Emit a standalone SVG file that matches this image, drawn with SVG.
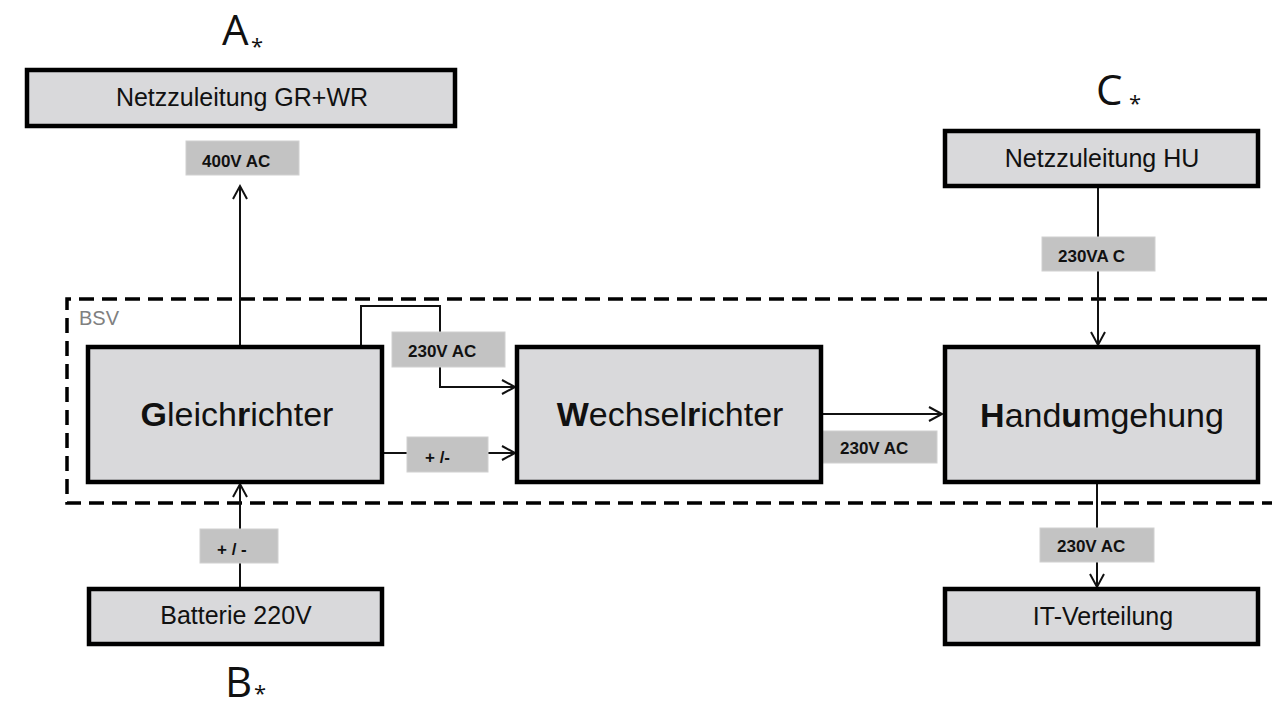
<svg xmlns="http://www.w3.org/2000/svg" width="1272" height="707" viewBox="0 0 1272 707">
  <style>
    .box { fill: #d9d9db; stroke: #000; stroke-width: 4.5; }
    .tag { fill: #c3c3c3; stroke: #d0d0d0; stroke-width: 1; }
    .wire { fill: none; stroke: #111; stroke-width: 2; }
    .big { font-family: "Liberation Sans", Arial, sans-serif; font-size: 34px; fill: #111; text-anchor: middle; }
    .mid { font-family: "Liberation Sans", Arial, sans-serif; font-size: 25px; fill: #111; text-anchor: middle; }
    .lbl { font-family: "Liberation Sans", Arial, sans-serif; font-size: 17px; font-weight: bold; fill: #111; }
    .mark { font-family: "Open Sans", "Noto Sans", sans-serif; font-size: 42px; fill: #111; }
    .star { font-family: "Open Sans", "Noto Sans", sans-serif; font-size: 22px; fill: #111; }
    .b { font-weight: bold; }
  </style>
  <defs>
    <marker id="arr" markerUnits="userSpaceOnUse" markerWidth="16" markerHeight="18" refX="14" refY="8" orient="auto" overflow="visible">
      <path d="M1,1 L14,8 L1,15" fill="none" stroke="#111" stroke-width="2"/>
    </marker>
  </defs>

  <rect width="1272" height="707" fill="#fff"/>

  <!-- BSV enclosure (open to the right) -->
  <g id="bsv">
    <path d="M1290,299 H67 V503 H1290" fill="none" stroke="#000" stroke-width="3.5" stroke-dasharray="15 8"/>
    <text x="79" y="325" font-family="Liberation Sans, Arial, sans-serif" font-size="20" fill="#808080">BSV</text>
  </g>

  <!-- connectors -->
  <g id="connectors">
    <path class="wire" d="M240,346 V186" marker-end="url(#arr)"/>
    <path class="wire" d="M240,588 V484" marker-end="url(#arr)"/>
    <path class="wire" d="M361,346 V306 H440 V387 H515" marker-end="url(#arr)"/>
    <path class="wire" d="M383,453 H515" marker-end="url(#arr)"/>
    <path class="wire" d="M822,414 H942" marker-end="url(#arr)"/>
    <path class="wire" d="M1098,187 V345" marker-end="url(#arr)"/>
    <path class="wire" d="M1097,484 V587" marker-end="url(#arr)"/>
  </g>

  <!-- connector labels -->
  <g id="labels">
    <g id="lbl-400"><rect class="tag" x="186" y="141" width="113" height="34"/><text class="lbl" x="202" y="167">400V AC</text></g>
    <g id="lbl-230-gr"><rect class="tag" x="392" y="332" width="113" height="35"/><text class="lbl" x="408" y="357">230V AC</text></g>
    <g id="lbl-dc-gr"><rect class="tag" x="407" y="437" width="81" height="35"/><text class="lbl" x="425" y="463">+ /-</text></g>
    <g id="lbl-230-wr"><rect class="tag" x="823" y="431" width="114" height="32"/><text class="lbl" x="840" y="454">230V AC</text></g>
    <g id="lbl-230-hu"><rect class="tag" x="1042" y="237" width="113" height="34"/><text class="lbl" x="1058" y="262">230VA C</text></g>
    <g id="lbl-230-it"><rect class="tag" x="1040" y="528" width="114" height="34"/><text class="lbl" x="1057" y="552">230V AC</text></g>
    <g id="lbl-dc-bat"><rect class="tag" x="200" y="529" width="78" height="34"/><text class="lbl" x="217" y="555">+ / -</text></g>
  </g>

  <!-- nodes -->
  <g id="netz-grwr">
    <rect class="box" x="27" y="70" width="428" height="56"/>
    <text class="mid" x="242" y="106">Netzzuleitung GR+WR</text>
  </g>
  <g id="gleichrichter">
    <rect class="box" x="88" y="347" width="294" height="135"/>
    <text class="big" x="237" y="426"><tspan class="b">G</tspan>leich<tspan class="b">r</tspan>ichter</text>
  </g>
  <g id="wechselrichter">
    <rect class="box" x="517" y="347" width="304" height="135"/>
    <text class="big" x="670" y="426"><tspan class="b">W</tspan>echsel<tspan class="b">r</tspan>ichter</text>
  </g>
  <g id="handumgehung">
    <rect class="box" x="945" y="347" width="313" height="135"/>
    <text class="big" x="1102" y="427"><tspan class="b">H</tspan>and<tspan class="b">u</tspan>mgehung</text>
  </g>
  <g id="netz-hu">
    <rect class="box" x="945" y="131" width="313" height="55"/>
    <text class="mid" x="1102" y="167">Netzzuleitung HU</text>
  </g>
  <g id="batterie">
    <rect class="box" x="89" y="589" width="293" height="55"/>
    <text class="mid" x="236" y="624">Batterie 220V</text>
  </g>
  <g id="it-verteilung">
    <rect class="box" x="945" y="589" width="313" height="55"/>
    <text class="mid" x="1103" y="625">IT-Verteilung</text>
  </g>

  <!-- reference marks -->
  <g id="mark-a"><text class="mark" x="222" y="45">A</text><text class="star" x="251" y="54">*</text></g>
  <g id="mark-b"><text class="mark" x="225" y="697">B</text><text class="star" x="254" y="701" font-size="18">*</text></g>
  <g id="mark-c"><text class="mark" x="1096" y="105">C</text><text class="star" x="1129" y="111">*</text></g>
</svg>
